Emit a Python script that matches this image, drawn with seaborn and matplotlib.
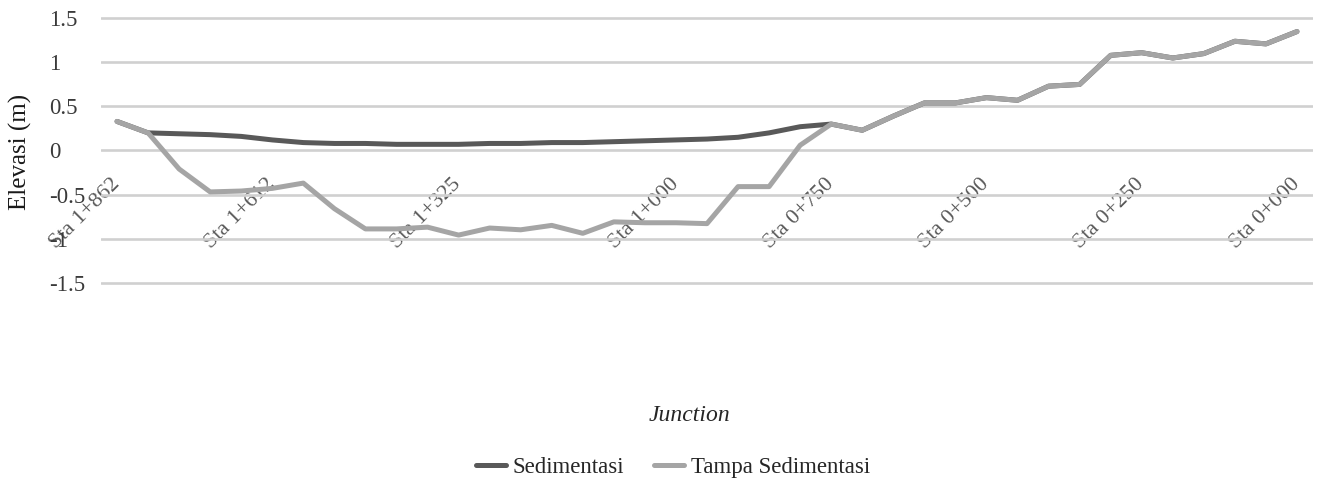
import numpy as np
import pandas as pd
import seaborn as sns
import matplotlib.pyplot as plt
from matplotlib.lines import Line2D

# elevation profile along the channel, one value per station (39 stations)
tanpa_sed = [0.33, 0.20, -0.21, -0.47, -0.46, -0.43, -0.37, -0.66, -0.89, -0.89,
             -0.87, -0.96, -0.88, -0.90, -0.85, -0.94, -0.81, -0.82, -0.82, -0.83,
             -0.41, -0.41, 0.06, 0.30, 0.23, 0.39, 0.54, 0.54, 0.60, 0.57,
             0.73, 0.75, 1.08, 1.11, 1.05, 1.10, 1.24, 1.21, 1.35]
sedimentasi = [0.33, 0.20, 0.19, 0.18, 0.16, 0.12, 0.09, 0.08, 0.08, 0.07,
               0.07, 0.07, 0.08, 0.08, 0.09, 0.09, 0.10, 0.11, 0.12, 0.13,
               0.15, 0.20, 0.27, 0.30, 0.23, 0.39, 0.54, 0.54, 0.60, 0.57,
               0.73, 0.75, 1.08, 1.11, 1.05, 1.10, 1.24, 1.21, 1.35]

tick_pos = [0, 5, 11, 18, 23, 28, 33, 38]
tick_labels = ['Sta 1+862', 'Sta 1+612', 'Sta 1+325', 'Sta 1+000',
               'Sta 0+750', 'Sta 0+500', 'Sta 0+250', 'Sta 0+000']

n = len(tanpa_sed)
df = pd.DataFrame({
    'idx': list(range(n)) * 2,
    'elev': sedimentasi + tanpa_sed,
    'seri': ['Sedimentasi'] * n + ['Tampa Sedimentasi'] * n,
})

sns.set_theme(style='white')
plt.rcParams['font.family'] = ['Liberation Serif', 'DejaVu Serif']

W, H = 1321, 486
fig = plt.figure(figsize=(W / 100, H / 100), dpi=100)
# axes placed in pixels to line up with the original
ax = fig.add_axes([101.5 / W, 1 - 285.3 / H, 1211 / W, 269.6 / H])

colors = {'Sedimentasi': '#595959', 'Tampa Sedimentasi': '#a5a5a5'}
sns.lineplot(data=df, x='idx', y='elev', hue='seri', palette=colors,
             estimator=None, sort=False, linewidth=3.6, legend=False, ax=ax)
for ln in ax.get_lines():
    ln.set_solid_joinstyle('round')
    ln.set_solid_capstyle('round')

ax.set_xlim(-0.5, 38.5)
ax.set_ylim(-1.53, 1.53)
ax.set_yticks([-1.5, -1, -0.5, 0, 0.5, 1, 1.5])
ax.set_yticklabels(['-1.5', '-1', '-0.5', '0', '0.5', '1', '1.5'])
ax.yaxis.grid(True, color='#d0d0d0', linewidth=1.9)
ax.set_axisbelow(True)
for s in ax.spines.values():
    s.set_visible(False)

# category axis crosses at 0, labels hang below the zero line
ax.spines['bottom'].set_position(('data', 0))
ax.set_xticks(tick_pos)
ax.set_xticklabels(tick_labels)
ax.tick_params(axis='x', length=0, pad=22, labelsize=16, labelcolor='#595959')
for t in ax.get_xticklabels():
    t.set_rotation(45)
    t.set_ha('right')
    t.set_va('center')
    t.set_rotation_mode('anchor')

ax.tick_params(axis='y', length=0, pad=38, labelsize=16.5, labelcolor='#3a3a3a')
for t in ax.get_yticklabels():
    t.set_ha('left')

ax.set_xlabel('')
ax.set_ylabel('')
fig.text(20 / W, 1 - 152 / H, 'Elevasi (m)', rotation=90, ha='center',
         va='center', fontsize=18, color='#1a1a1a')
fig.text(690 / W, 1 - 415 / H, 'Junction', ha='center', va='center',
         fontsize=17, style='italic', color='#262626')

handles = [Line2D([], [], color=colors[k], linewidth=3.6) for k in colors]
fig.legend(handles, list(colors), loc='center', bbox_to_anchor=(673 / W, 1 - 467 / H),
           ncol=2, frameon=False, fontsize=16.5, handlelength=1.3,
           handletextpad=0.3, columnspacing=1.3, labelcolor='#262626')

fig.savefig('out.png', dpi=100)
